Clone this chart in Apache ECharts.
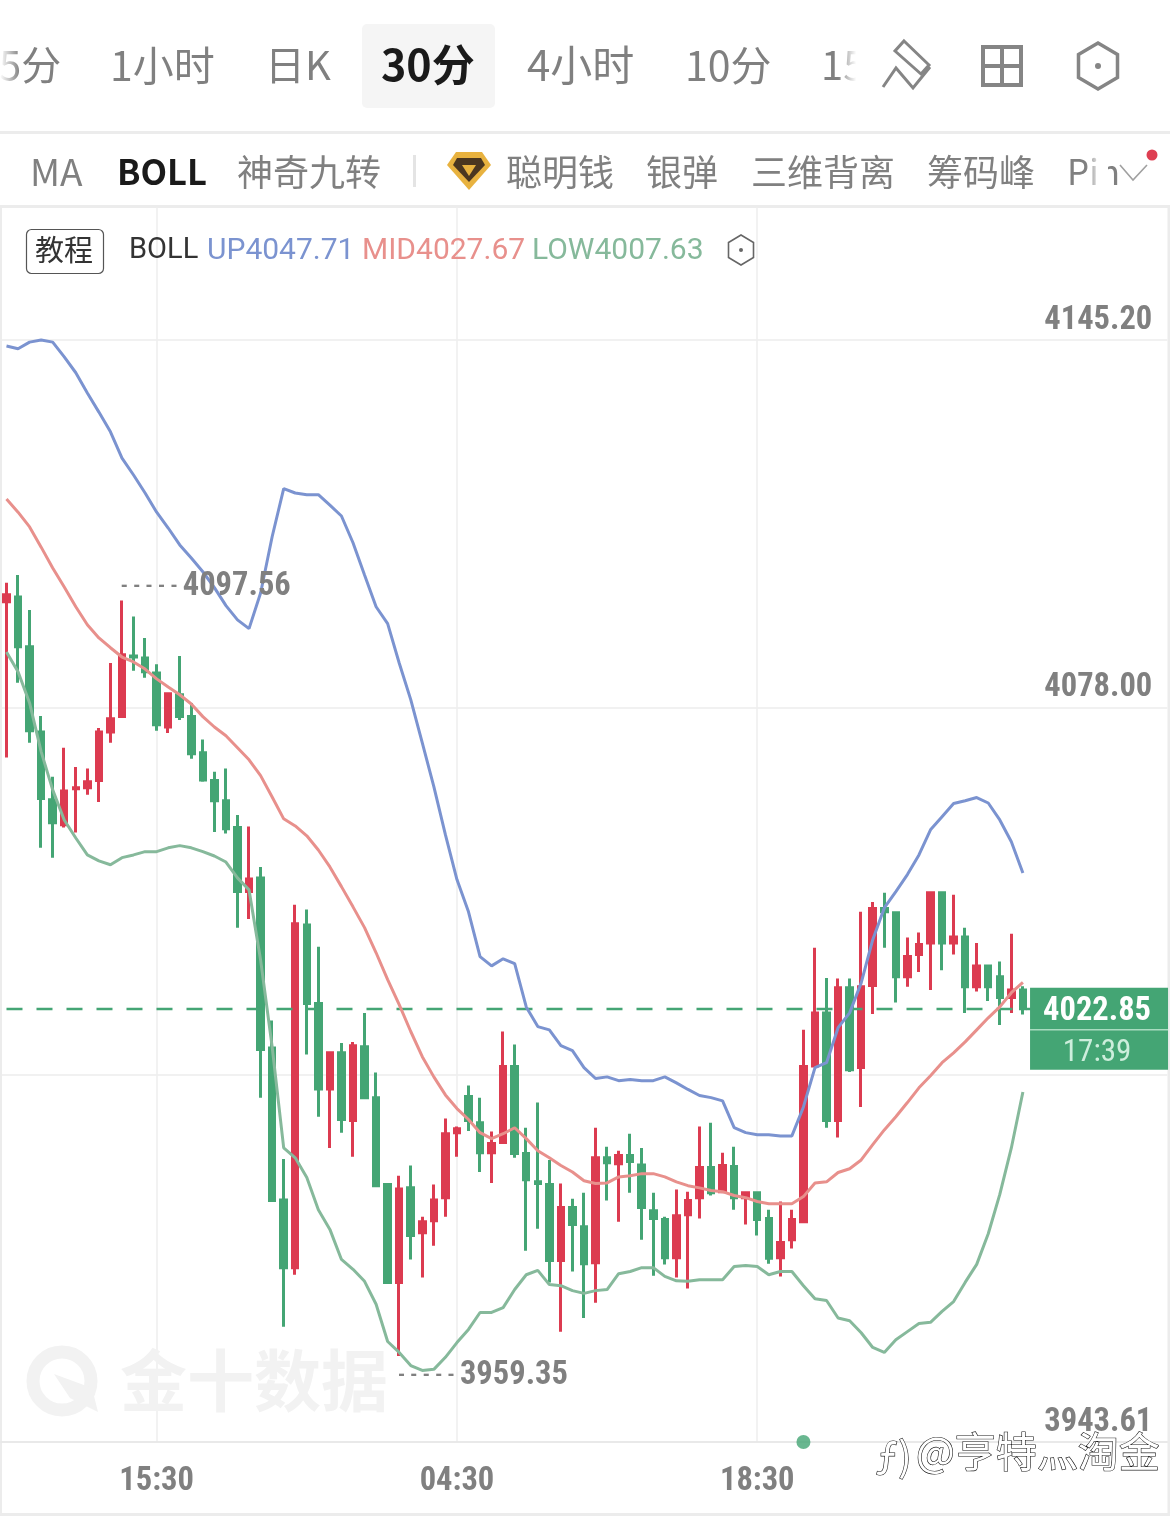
<!DOCTYPE html>
<html lang="zh">
<head>
<meta charset="utf-8">
<title>BOLL 30分</title>
<style>
html,body{margin:0;padding:0;background:#fff}
#chart{width:1170px;height:1518px}
</style>
<script src="https://cdn.jsdelivr.net/npm/echarts@6/dist/echarts.min.js"></script>
</head>
<body>
<div id="chart"></div>
<script>
// Each row: open, close, low, high
const ohlc = [
[4097.3,4098.6,4068.8,4100.8],[4098.2,4089.1,4082.5,4102.2],[4089.1,4073.7,4071.5,4095.8],[4073.5,4061.3,4052.3,4076.4],
[4061.1,4056.9,4050.5,4065.3],[4056.5,4062.7,4056.0,4070.6],[4063.1,4063.3,4055.1,4067.1],[4063.3,4064.4,4062.0,4066.8],
[4064.6,4073.5,4060.7,4074.2],[4073.5,4075.9,4071.5,4086.1],[4076.3,4087.6,4076.1,4097.56],[4087.4,4087.2,4084.7,4094.6],
[4087.0,4084.5,4083.4,4090.7],[4084.3,4074.8,4073.7,4085.9],[4074.4,4080.5,4073.3,4080.6],[4080.3,4076.3,4075.7,4087.4],
[4076.3,4069.5,4068.6,4078.8],[4069.7,4064.7,4064.4,4072.1],[4064.6,4060.9,4055.2,4066.2],[4060.9,4055.8,4054.9,4066.8],
[4056.0,4044.3,4037.7,4058.3],[4044.3,4046.6,4039.3,4056.2],[4046.8,4015.4,4006.6,4048.8],[4015.7,3987.8,3987.8,4020.7],
[3987.9,3975.5,3964.7,3995.4],[3975.5,4038.4,3974.2,4041.9],[4038.2,4023.8,4014.5,4041.0],[4023.8,4008.2,4003.1,4034.2],
[4008.2,4014.8,3997.4,4014.8],[4014.8,4002.6,4000.2,4016.6],[4002.4,4016.1,3995.8,4016.8],[4015.9,4006.6,4006.4,4022.1],
[4006.6,3990.5,3990.3,4011.2],[3990.7,3972.8,3972.8,3990.9],[3972.8,3989.9,3959.35,3992.3],[3990.1,3981.4,3977.0,3994.2],
[3981.9,3983.9,3973.7,3984.8],[3984.1,3987.9,3979.5,3990.7],[3988.3,4000.0,3984.8,4002.8],[4000.2,4000.9,3995.8,4001.3],
[4006.8,4002.4,4000.5,4008.8],[4002.0,3996.5,3993.0,4006.6],[3996.5,3998.2,3991.0,4000.4],[3998.4,4012.3,3998.4,4018.7],
[4012.3,3996.4,3995.6,4016.3],[3996.4,3991.6,3978.6,4001.1],[3991.2,3990.9,3982.6,4005.7],[3990.7,3976.8,3972.8,3995.2],
[3976.8,3986.5,3963.8,3990.9],[3986.5,3983.4,3974.8,3988.1],[3983.0,3976.2,3966.3,3989.2],[3976.4,3995.6,3969.1,4001.1],
[3995.6,3994.7,3987.8,3997.6],[3994.5,3996.0,3983.9,3996.9],[3996.0,3994.9,3989.2,4000.0],[3994.3,3986.5,3980.6,3997.4],
[3985.9,3984.5,3974.0,3989.2],[3984.3,3977.3,3976.1,3984.8],[3977.3,3985.0,3973.7,3989.8],[3985.2,3987.8,3971.7,3989.4],
[3988.3,3993.8,3984.5,4001.3],[3993.8,3989.2,3988.7,4002.0],[3989.4,3994.2,3989.4,3996.5],[3994.0,3988.3,3986.1,3997.6],
[3988.3,3989.2,3983.4,3989.2],[3989.2,3984.3,3981.4,3989.2],[3984.5,3977.2,3976.2,3986.1],[3977.3,3980.1,3973.9,3987.6],
[3980.6,3984.3,3979.0,3986.1],[3983.9,4012.3,3983.9,4019.0],[4012.4,4022.1,4012.4,4034.0],[4022.1,4002.4,4001.1,4028.5],
[4002.4,4026.7,3999.3,4028.4],[4026.7,4011.7,4011.3,4028.4],[4012.1,4026.9,4004.9,4040.6],[4027.1,4041.2,4021.9,4042.4],
[4041.2,4040.6,4034.0,4044.1],[4040.4,4028.7,4024.0,4040.6],[4028.7,4032.4,4026.9,4035.9],[4032.8,4034.6,4029.6,4036.8],
[4034.9,4044.1,4026.3,4044.1],[4044.1,4034.9,4029.9,4044.1],[4034.9,4036.0,4032.8,4043.7],[4036.0,4026.9,4022.1,4037.7],
[4026.9,4030.7,4026.0,4034.9],[4030.7,4026.9,4024.3,4030.7],[4028.7,4024.9,4019.9,4031.5],[4024.9,4026.3,4022.1,4036.6],
[4026.3,4022.85,4021.8,4027.0]
];

const bollUp = [
4144.1,4143.6,4144.8,4145.2,4144.8,4142.1,4139.2,4135.5,4132.0,4128.4,4123.6,4120.5,4117.2,4113.7,4110.8,4107.7,
4105.3,4102.8,4099.9,4096.6,4094.0,4092.4,4098.9,4109.2,4118.0,4117.2,4116.9,4116.9,4115.0,4113.0,4108.1,4102.2,
4096.4,4093.3,4086.1,4079.4,4071.5,4063.5,4054.7,4046.5,4040.6,4032.4,4030.7,4032.0,4031.1,4023.2,4019.6,4019.0,
4016.1,4015.2,4012.1,4010.1,4010.4,4009.7,4009.9,4009.7,4009.7,4010.4,4009.3,4008.1,4007.0,4006.6,4006.0,4001.1,
4000.2,3999.8,3999.8,3999.6,3999.6,4004.9,4012.1,4013.0,4019.4,4022.1,4027.6,4035.5,4041.3,4044.3,4047.4,4051.0,
4055.6,4058.0,4060.4,4060.9,4061.5,4060.5,4057.4,4053.4,4047.71
];
const bollMid = [
4116.1,4113.7,4111.0,4107.3,4103.5,4100.0,4096.4,4093.1,4090.7,4088.9,4087.2,4086.3,4085.0,4083.2,4081.7,4080.3,
4078.6,4076.3,4074.4,4072.8,4070.6,4068.4,4065.5,4061.6,4057.6,4056.3,4054.5,4051.9,4048.8,4045.2,4041.5,4037.7,
4033.1,4028.2,4023.6,4018.7,4014.1,4010.4,4007.1,4004.6,4002.6,4000.2,3999.1,4000.0,4001.1,3999.1,3996.9,3995.6,
3994.2,3993.0,3991.4,3990.9,3991.0,3992.1,3992.3,3992.7,3992.7,3992.1,3991.2,3990.5,3990.1,3989.6,3989.4,3988.7,
3988.3,3987.6,3987.2,3987.2,3987.2,3988.5,3991.0,3991.2,3992.9,3993.6,3995.2,3998.0,4000.7,4003.1,4005.7,4008.4,
4010.6,4013.0,4014.8,4016.8,4019.0,4021.2,4023.2,4025.8,4027.67
];
const bollLow = [
4088.1,4084.5,4078.8,4069.9,4062.9,4057.4,4054.1,4051.0,4049.9,4049.2,4050.5,4051.0,4051.6,4051.6,4052.3,4052.7,
4052.3,4051.6,4050.8,4049.7,4046.8,4044.6,4031.8,4015.9,3997.4,3995.6,3992.0,3986.1,3982.5,3977.0,3975.2,3973.0,
3968.8,3962.0,3960.0,3957.6,3956.7,3956.9,3959.1,3961.8,3964.2,3967.3,3967.3,3968.2,3971.5,3974.2,3975.0,3972.4,
3972.2,3971.3,3970.8,3971.3,3971.5,3974.4,3974.8,3975.5,3975.5,3973.9,3973.1,3973.0,3973.3,3973.3,3973.3,3975.7,
3975.9,3975.7,3974.2,3974.8,3974.8,3972.2,3969.8,3969.5,3966.3,3965.8,3963.6,3960.9,3960.0,3962.3,3963.8,3965.3,
3965.5,3967.5,3969.3,3972.8,3976.1,3981.7,3988.9,3997.4,4007.63
];

const priceTicks = [3943.61, 4010.80, 4078.00, 4145.20];
const priceMin = 3943.61;
const priceMax = 4169.52;
const lastPrice = 4022.85;
const countdown = '17:39';
const highMark = {index: 10, value: 4097.56};
const lowMark = {index: 34, value: 3959.35};
const timeTickIndexes = [13, 39, 65];
const signalIndex = 69;
const periodTabs = ['5分', '1小时', '日K', '30分', '4小时', '10分', '15'];
const indicatorTabs = ['MA', 'BOLL', '神奇九转', '聪明钱', '银弹', '三维背离', '筹码峰', 'Pin'];

// 30-minute bars from 09:00; the market pauses for an hour at 06:00. Empty bars pad the right side.
const totalSlots = 101;
const categories = Array.from({length: totalSlots}, (_, i) => {
  const minutes = 540 + 30 * i + (i >= 42 ? 60 : 0);
  const h = Math.floor(minutes / 60) % 24, m = minutes % 60;
  return String(h).padStart(2, '0') + ':' + String(m).padStart(2, '0');
});

const RED = '#dc3b50', GREEN = '#44a574';
const BLUE_LINE = '#7b93d0', RED_LINE = '#e8908c', GREEN_LINE = '#86b99b';
const GREY = '#808080', RULE = '#ececec';
const CJK = '"Noto Sans CJK SC","Noto Sans",sans-serif';
const NARROW = '"Roboto Condensed","Roboto",sans-serif';

function text(str, x, y, size, fill, extra) {
  const o = extra || {};
  return {
    type: 'text', z: o.z || 1,
    style: Object.assign({
      text: str, x: x, y: y, fill: fill,
      font: (o.weight || 'normal') + ' ' + size + 'px ' + (o.family || CJK),
      textAlign: o.align || 'left', textVerticalAlign: 'middle'
    }, o.style || {})
  };
}
function rect(x, y, w, h, fill, r, z) {
  return {type: 'rect', z: z || 0, shape: {x, y, width: w, height: h, r: r || 0}, style: {fill}};
}
function hexagon(cx, cy, w, h, stroke, lw, dot) {
  return [
    {type: 'polygon', z: 1, shape: {points: [[cx, cy - h / 2], [cx + w / 2, cy - h / 4], [cx + w / 2, cy + h / 4], [cx, cy + h / 2], [cx - w / 2, cy + h / 4], [cx - w / 2, cy - h / 4]]}, style: {fill: 'none', stroke, lineWidth: lw}},
    {type: 'circle', z: 1, shape: {cx, cy, r: dot}, style: {fill: stroke}}
  ];
}
function fade(x, w, y, h, toRight) {
  return {
    type: 'rect', z: 2, shape: {x, y, width: w, height: h},
    style: {fill: {type: 'linear', x: 0, y: 0, x2: 1, y2: 0, colorStops: toRight
      ? [{offset: 0, color: 'rgba(255,255,255,0)'}, {offset: 0.7, color: '#fff'}, {offset: 1, color: '#fff'}]
      : [{offset: 0, color: '#fff'}, {offset: 1, color: 'rgba(255,255,255,0)'}]}}
  };
}

const chromeElements = [
  // period tabs
  rect(362, 24, 133, 84, '#f5f5f5', 5),
  text(periodTabs[0], -1, 65, 40, GREY),
  fade(0, 20, 40, 50, false),
  text(periodTabs[1], 110, 65, 41, GREY),
  text(periodTabs[2], 265, 65, 40, GREY),
  text(periodTabs[3], 381, 65, 43, '#1a1a1a', {weight: 'bold'}),
  text(periodTabs[4], 527, 65, 42, GREY),
  text(periodTabs[5], 685, 65, 41, GREY),
  text(periodTabs[6], 821, 65, 40, GREY),
  fade(838, 26, 40, 50, true),
  // drawing tool, layout and settings icons
  {type: 'polygon', z: 1, shape: {points: [[904, 41], [929, 65], [921, 74], [895, 51]]}, style: {fill: 'none', stroke: '#858585', lineWidth: 3}},
  {type: 'polyline', z: 1, shape: {points: [[883, 87], [896, 68], [913, 88], [930, 67]]}, style: {fill: 'none', stroke: '#858585', lineWidth: 3}},
  {type: 'rect', z: 1, shape: {x: 983, y: 47, width: 38, height: 38}, style: {fill: 'none', stroke: '#858585', lineWidth: 4}},
  {type: 'line', z: 1, shape: {x1: 1002, y1: 47, x2: 1002, y2: 85}, style: {stroke: '#858585', lineWidth: 4}},
  {type: 'line', z: 1, shape: {x1: 983, y1: 66, x2: 1021, y2: 66}, style: {stroke: '#858585', lineWidth: 4}},
  ...hexagon(1098, 66, 39, 46, '#858585', 3.5, 3),
  rect(0, 131, 1170, 3, RULE),
  // indicator tabs
  text(indicatorTabs[0], 30, 172, 37, GREY),
  text(indicatorTabs[1], 117, 172, 34.5, '#1a1a1a', {weight: 'bold'}),
  text(indicatorTabs[2], 237, 172, 36, GREY),
  rect(413, 155, 3, 32, '#e4e4e4'),
  {type: 'polygon', z: 1, shape: {points: [[456, 152], [482, 152], [491, 165], [469, 190], [447, 165]]}, style: {fill: '#e8b23f'}},
  {type: 'polygon', z: 1, shape: {points: [[457, 158], [481, 158], [485, 165], [469, 182], [453, 165]]}, style: {fill: '#4a3620'}},
  {type: 'polygon', z: 1, shape: {points: [[462, 165], [476, 165], [469, 176]]}, style: {fill: '#e8b23f'}},
  text(indicatorTabs[3], 506, 172, 36, GREY),
  text(indicatorTabs[4], 646, 172, 36, GREY),
  text(indicatorTabs[5], 751, 172, 36, GREY),
  text(indicatorTabs[6], 927, 172, 36, GREY),
  text(indicatorTabs[7], 1067, 172, 35, GREY),
  fade(1086, 22, 150, 46, true),
  {type: 'polyline', z: 3, shape: {points: [[1120, 165], [1133, 180], [1147, 165]]}, style: {fill: 'none', stroke: '#a0a0a0', lineWidth: 1.6}},
  {type: 'circle', z: 3, shape: {cx: 1152, cy: 155, r: 5.5}, style: {fill: '#de3f52'}},
  // chart frame
  rect(0, 205, 1170, 3, RULE),
  rect(0, 205, 2, 1311, RULE),
  rect(1167.5, 205, 2.5, 1311, RULE),
  rect(0, 1513, 1170, 3, RULE),
  // indicator legend
  {type: 'rect', z: 1, shape: {x: 26.5, y: 229.5, width: 77, height: 44, r: 5}, style: {fill: '#fff', stroke: '#555', lineWidth: 1.2}},
  text('教程', 35, 250, 29, '#333'),
  text('BOLL', 129, 251, 29, '#333', {family: 'Roboto'}),
  text('UP' + bollUp[bollUp.length - 1].toFixed(2), 207, 251, 30, BLUE_LINE, {family: 'Roboto'}),
  text('MID' + bollMid[bollMid.length - 1].toFixed(2), 362, 251, 30, RED_LINE, {family: 'Roboto'}),
  text('LOW' + bollLow[bollLow.length - 1].toFixed(2), 532, 251, 30, GREEN_LINE, {family: 'Roboto'}),
  ...hexagon(741, 250, 25, 30, '#666', 1.6, 2),
  // brand mark behind the plot
  {type: 'circle', z: 1, shape: {cx: 62, cy: 1381, r: 29}, style: {fill: 'none', stroke: '#f2f2f2', lineWidth: 13}},
  {type: 'polygon', z: 1, shape: {points: [[54, 1374], [92, 1388], [98, 1412], [70, 1398]]}, style: {fill: '#f2f2f2'}},
  text('金十数据', 120, 1381, 67, '#f2f2f2', {weight: 'bold'}),
  // divider inside the price tag
  rect(1030, 1029, 138, 1.5, '#a9dcc0', 0, 20),
  // repost signature over the bottom corner
  text('ƒ)', 876, 1456, 40, '#fff', {z: 30, style: {stroke: '#111', lineWidth: 1.2, fontStyle: 'italic'}}),
  text('@亨特灬淘金', 916, 1451, 41, '#fff', {z: 30, style: {stroke: '#111', lineWidth: 1.2}})
];

const chart = echarts.init(document.getElementById('chart'), null, {renderer: 'canvas'});
chart.setOption({
  animation: false,
  backgroundColor: '#fff',
  graphic: {elements: chromeElements},
  grid: {left: 0.72, right: 2.73, top: 207, bottom: 76, containLabel: false},
  xAxis: {
    type: 'category',
    data: categories,
    boundaryGap: true,
    axisLine: {show: true, lineStyle: {color: '#e6e6e6', width: 1.5}},
    axisTick: {show: false},
    axisLabel: {
      interval: (i) => timeTickIndexes.includes(i),
      margin: 23,
      color: GREY, fontFamily: NARROW, fontSize: 32.5, fontWeight: 'bold', hideOverlap: false
    },
    splitLine: {
      show: true,
      alignWithLabel: true,
      interval: (i) => timeTickIndexes.includes(i),
      lineStyle: {color: '#eeeeee', width: 1.5}
    }
  },
  yAxis: {
    type: 'value',
    position: 'right',
    min: priceMin,
    max: priceMax,
    scale: true,
    axisLine: {show: false},
    axisTick: {show: false, customValues: priceTicks},
    axisLabel: {
      customValues: priceTicks,
      inside: true,
      margin: 15,
      verticalAlign: 'bottom',
      padding: [0, 0, 3, 0],
      formatter: (v) => v.toFixed(2),
      color: GREY, fontFamily: NARROW, fontSize: 32.5, fontWeight: 'bold'
    },
    splitLine: {show: true, lineStyle: {color: '#ececec', width: 1.5}}
  },
  series: [
    {
      type: 'candlestick',
      name: '30分',
      data: ohlc,
      barWidth: 6,
      z: 3,
      itemStyle: {color: RED, color0: GREEN, borderColor: RED, borderColor0: GREEN, borderWidth: 3},
      emphasis: {disabled: true},
      markLine: {
        silent: true, symbol: 'none', z: 4, animation: false,
        label: {show: false},
        lineStyle: {color: GREEN, type: [16, 14], width: 2.4},
        data: [[{xAxis: 0, yAxis: lastPrice}, {xAxis: 90, yAxis: lastPrice}]]
      },
      markPoint: {
        silent: true, animation: false, z: 10,
        label: {
          rich: {
            d: {fontFamily: NARROW, fontSize: 21, fontWeight: 'bold', color: GREY, padding: [0, 5, 0, 0]},
            v: {fontFamily: NARROW, fontSize: 32.5, fontWeight: 'bold', color: GREY},
            p: {fontFamily: NARROW, fontSize: 32.5, fontWeight: 'bold', color: '#fff', lineHeight: 41, align: 'center'},
            t: {fontFamily: NARROW, fontSize: 31, color: '#cdeedc', lineHeight: 41, align: 'center'}
          }
        },
        data: [
          {
            coord: [highMark.index, highMark.value], value: highMark.value,
            symbol: 'circle', symbolSize: 1, itemStyle: {color: 'rgba(0,0,0,0)'},
            label: {position: 'right', offset: [-7, -14], formatter: '{d|- - - - -}{v|' + highMark.value.toFixed(2) + '}'}
          },
          {
            coord: [lowMark.index, lowMark.value], value: lowMark.value,
            symbol: 'circle', symbolSize: 1, itemStyle: {color: 'rgba(0,0,0,0)'},
            label: {position: 'right', offset: [-7, 20], formatter: '{d|- - - - -}{v|' + lowMark.value.toFixed(2) + '}'}
          },
          {
            coord: [95, lastPrice], value: lastPrice,
            symbol: 'rect', symbolSize: [138, 82], symbolOffset: [-4.7, 20],
            itemStyle: {color: GREEN},
            label: {position: 'inside', offset: [-2, 4], formatter: '{p|' + lastPrice.toFixed(2) + '}\n{t|' + countdown + '}'}
          }
        ]
      }
    },
    {type: 'line', name: 'UP', data: bollUp, showSymbol: false, z: 5, lineStyle: {color: BLUE_LINE, width: 3}, itemStyle: {color: BLUE_LINE}, emphasis: {disabled: true}},
    {type: 'line', name: 'MID', data: bollMid, showSymbol: false, z: 5, lineStyle: {color: RED_LINE, width: 3}, itemStyle: {color: RED_LINE}, emphasis: {disabled: true}},
    {type: 'line', name: 'LOW', data: bollLow, showSymbol: false, z: 5, lineStyle: {color: GREEN_LINE, width: 3}, itemStyle: {color: GREEN_LINE}, emphasis: {disabled: true}},
    {type: 'scatter', name: 'signal', data: [[signalIndex, priceMin]], symbolSize: 14, clip: false, z: 6, itemStyle: {color: GREEN}, emphasis: {disabled: true}}
  ]
});
</script>
</body>
</html>
